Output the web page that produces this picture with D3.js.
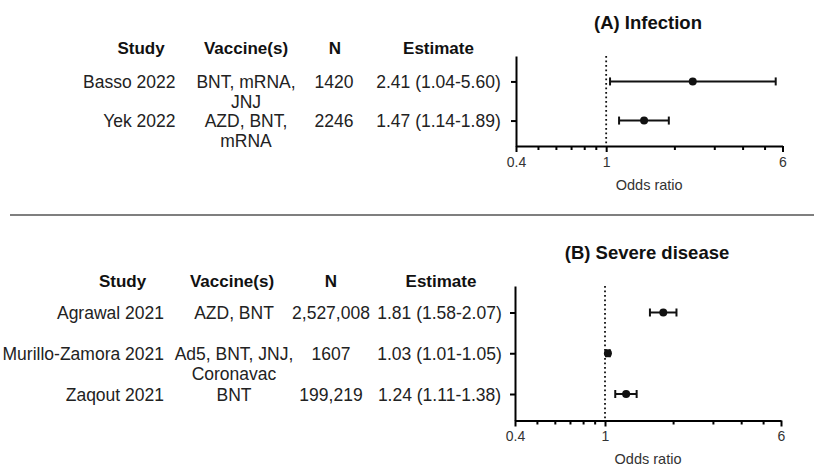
<!DOCTYPE html>
<html lang="en">
    <head>
        <meta charset="utf-8">
        <title>Forest plot</title>
        <script src="https://cdn.jsdelivr.net/npm/d3@7/dist/d3.min.js" charset="utf-8"></script>
        <style type="text/css">
            body { margin: 0; background: #fff; }
            text { font-family: "Liberation Sans", Arial, sans-serif; fill: #222; }
            .head { font-weight: bold; font-size: 17px; fill: #111; }
            .title { font-weight: bold; font-size: 18.5px; fill: #111; }
            .cell { font-size: 17.5px; }
            .tick text { font-size: 14px; fill: #333; }
         </style>
    </head>
    <body>
        <div id="chart"></div>
        <script>
            // Datos
            var headers = ["Study", "Vaccine(s)", "N", "Estimate"];
            var majorTicks = [0.4, 1, 6];
            var minorTicks = [0.5, 0.6, 0.7, 0.8, 0.9, 2, 3, 4, 5];

            var titleA = "(A) Infection";
            var studyA = ["Basso 2022", "Yek 2022"];
            var vaccineA = [["BNT, mRNA,", "JNJ"], ["AZD, BNT,", "mRNA"]];
            var nA = ["1420", "2246"];
            var orA = [2.41, 1.47];
            var loA = [1.04, 1.14];
            var hiA = [5.60, 1.89];

            var titleB = "(B) Severe disease";
            var studyB = ["Agrawal 2021", "Murillo-Zamora 2021", "Zaqout 2021"];
            var vaccineB = [["AZD, BNT"], ["Ad5, BNT, JNJ,", "Coronavac"], ["BNT"]];
            var nB = ["2,527,008", "1607", "199,219"];
            var orB = [1.81, 1.03, 1.24];
            var loB = [1.58, 1.01, 1.11];
            var hiB = [2.07, 1.05, 1.38];

            var svg = d3.select("#chart").append("svg")
                .attr("width", 814)
                .attr("height", 466);

            // Linea separadora
            svg.append("line")
                .attr("x1", 10).attr("x2", 814)
                .attr("y1", 215).attr("y2", 215)
                .attr("stroke", "#555").attr("stroke-width", 1.5);

            function panel(cfg) {
                var g = svg.append("g");
                var rows = cfg.study.map(function(d, i) { return i; });

                var x = d3.scaleLog()
                    .domain([0.4, 6])
                    .range(cfg.xr);

                var y = d3.scalePoint()
                    .domain(rows)
                    .range(cfg.yr)
                    .padding(0.65);

                // Titulo
                g.append("text").attr("class", "title")
                    .attr("x", cfg.titleX).attr("y", cfg.titleY)
                    .attr("text-anchor", "middle").attr("dy", "0.35em")
                    .text(cfg.title);

                // Encabezados
                headers.forEach(function(h, i) {
                    g.append("text").attr("class", "head")
                        .attr("x", cfg.headX[i]).attr("y", cfg.headY)
                        .attr("text-anchor", "middle").attr("dy", "0.35em")
                        .text(h);
                });

                // Tabla
                rows.forEach(function(i) {
                    var yy = y(i) + 0.8;
                    g.append("text").attr("class", "cell")
                        .attr("x", cfg.colX[0]).attr("y", yy)
                        .attr("text-anchor", "end").attr("dy", "0.35em")
                        .text(cfg.study[i]);
                    cfg.vaccine[i].forEach(function(line, k) {
                        g.append("text").attr("class", "cell")
                            .attr("x", cfg.colX[1]).attr("y", yy + k * 20)
                            .attr("text-anchor", "middle").attr("dy", "0.35em")
                            .text(line);
                    });
                    g.append("text").attr("class", "cell")
                        .attr("x", cfg.colX[2]).attr("y", yy)
                        .attr("text-anchor", "middle").attr("dy", "0.35em")
                        .text(cfg.n[i]);
                    g.append("text").attr("class", "cell")
                        .attr("x", cfg.colX[3]).attr("y", yy)
                        .attr("text-anchor", "middle").attr("dy", "0.35em")
                        .text(cfg.or[i].toFixed(2) + " (" + cfg.lo[i].toFixed(2) + "-" + cfg.hi[i].toFixed(2) + ")");
                });

                // Eje y
                var yAxis = d3.axisLeft(y).tickSize(5).tickSizeOuter(0).tickFormat("");
                var ya = g.append("g")
                    .attr("transform", "translate(" + cfg.xr[0] + ",0)")
                    .call(yAxis);
                ya.select(".domain").attr("stroke-width", 2);
                ya.selectAll(".tick line").attr("stroke-width", 2);

                // Eje x
                var bottom = cfg.yr[1];
                var xMinor = g.append("g")
                    .attr("transform", "translate(0," + bottom + ")")
                    .call(d3.axisBottom(x).tickValues(minorTicks).tickSize(4).tickSizeOuter(0).tickFormat(""));
                xMinor.select(".domain").remove();
                xMinor.selectAll(".tick line").attr("stroke-width", 2);

                var xa = g.append("g")
                    .attr("transform", "translate(0," + bottom + ")")
                    .call(d3.axisBottom(x).tickValues(majorTicks).tickSize(6).tickSizeOuter(0).tickPadding(5)
                        .tickFormat(function(d) { return d; }));
                xa.select(".domain").attr("stroke-width", 2);
                xa.selectAll(".tick line").attr("stroke-width", 2);

                g.append("text")
                    .attr("x", x(1) + 43).attr("y", bottom + 38.5)
                    .attr("text-anchor", "middle").attr("dy", "0.35em")
                    .style("font-size", "14.5px").style("fill", "#333")
                    .text("Odds ratio");

                // Linea de referencia
                g.append("line")
                    .attr("x1", x(1)).attr("x2", x(1))
                    .attr("y1", cfg.yr[0]).attr("y2", bottom)
                    .attr("stroke", "#111").attr("stroke-width", 1.8)
                    .attr("stroke-dasharray", "1.8,2.7");

                // Intervalos
                rows.forEach(function(i) {
                    var yy = y(i);
                    g.append("line")
                        .attr("x1", x(cfg.lo[i])).attr("x2", x(cfg.hi[i]))
                        .attr("y1", yy).attr("y2", yy)
                        .attr("stroke", "#111").attr("stroke-width", 2);
                    [cfg.lo[i], cfg.hi[i]].forEach(function(v) {
                        g.append("line")
                            .attr("x1", x(v)).attr("x2", x(v))
                            .attr("y1", yy - 4).attr("y2", yy + 4)
                            .attr("stroke", "#111").attr("stroke-width", 2);
                    });
                    g.append("circle")
                        .attr("cx", x(cfg.or[i])).attr("cy", yy)
                        .attr("r", 4).attr("fill", "#111");
                });
            }

            panel({
                title: titleA, study: studyA, vaccine: vaccineA, n: nA, or: orA, lo: loA, hi: hiA,
                xr: [516, 782.5], yr: [56, 146],
                titleX: 648, titleY: 23,
                headX: [141, 246, 335, 438.5], headY: 48.5,
                colX: [175.5, 246, 334, 438.5]
            });

            panel({
                title: titleB, study: studyB, vaccine: vaccineB, n: nB, or: orB, lo: loB, hi: hiB,
                xr: [515, 781], yr: [286, 420.5],
                titleX: 647, titleY: 253,
                headX: [122.5, 232, 331, 441], headY: 281,
                colX: [164, 234, 331, 439.5]
            });
        </script>
    </body>
</html>
